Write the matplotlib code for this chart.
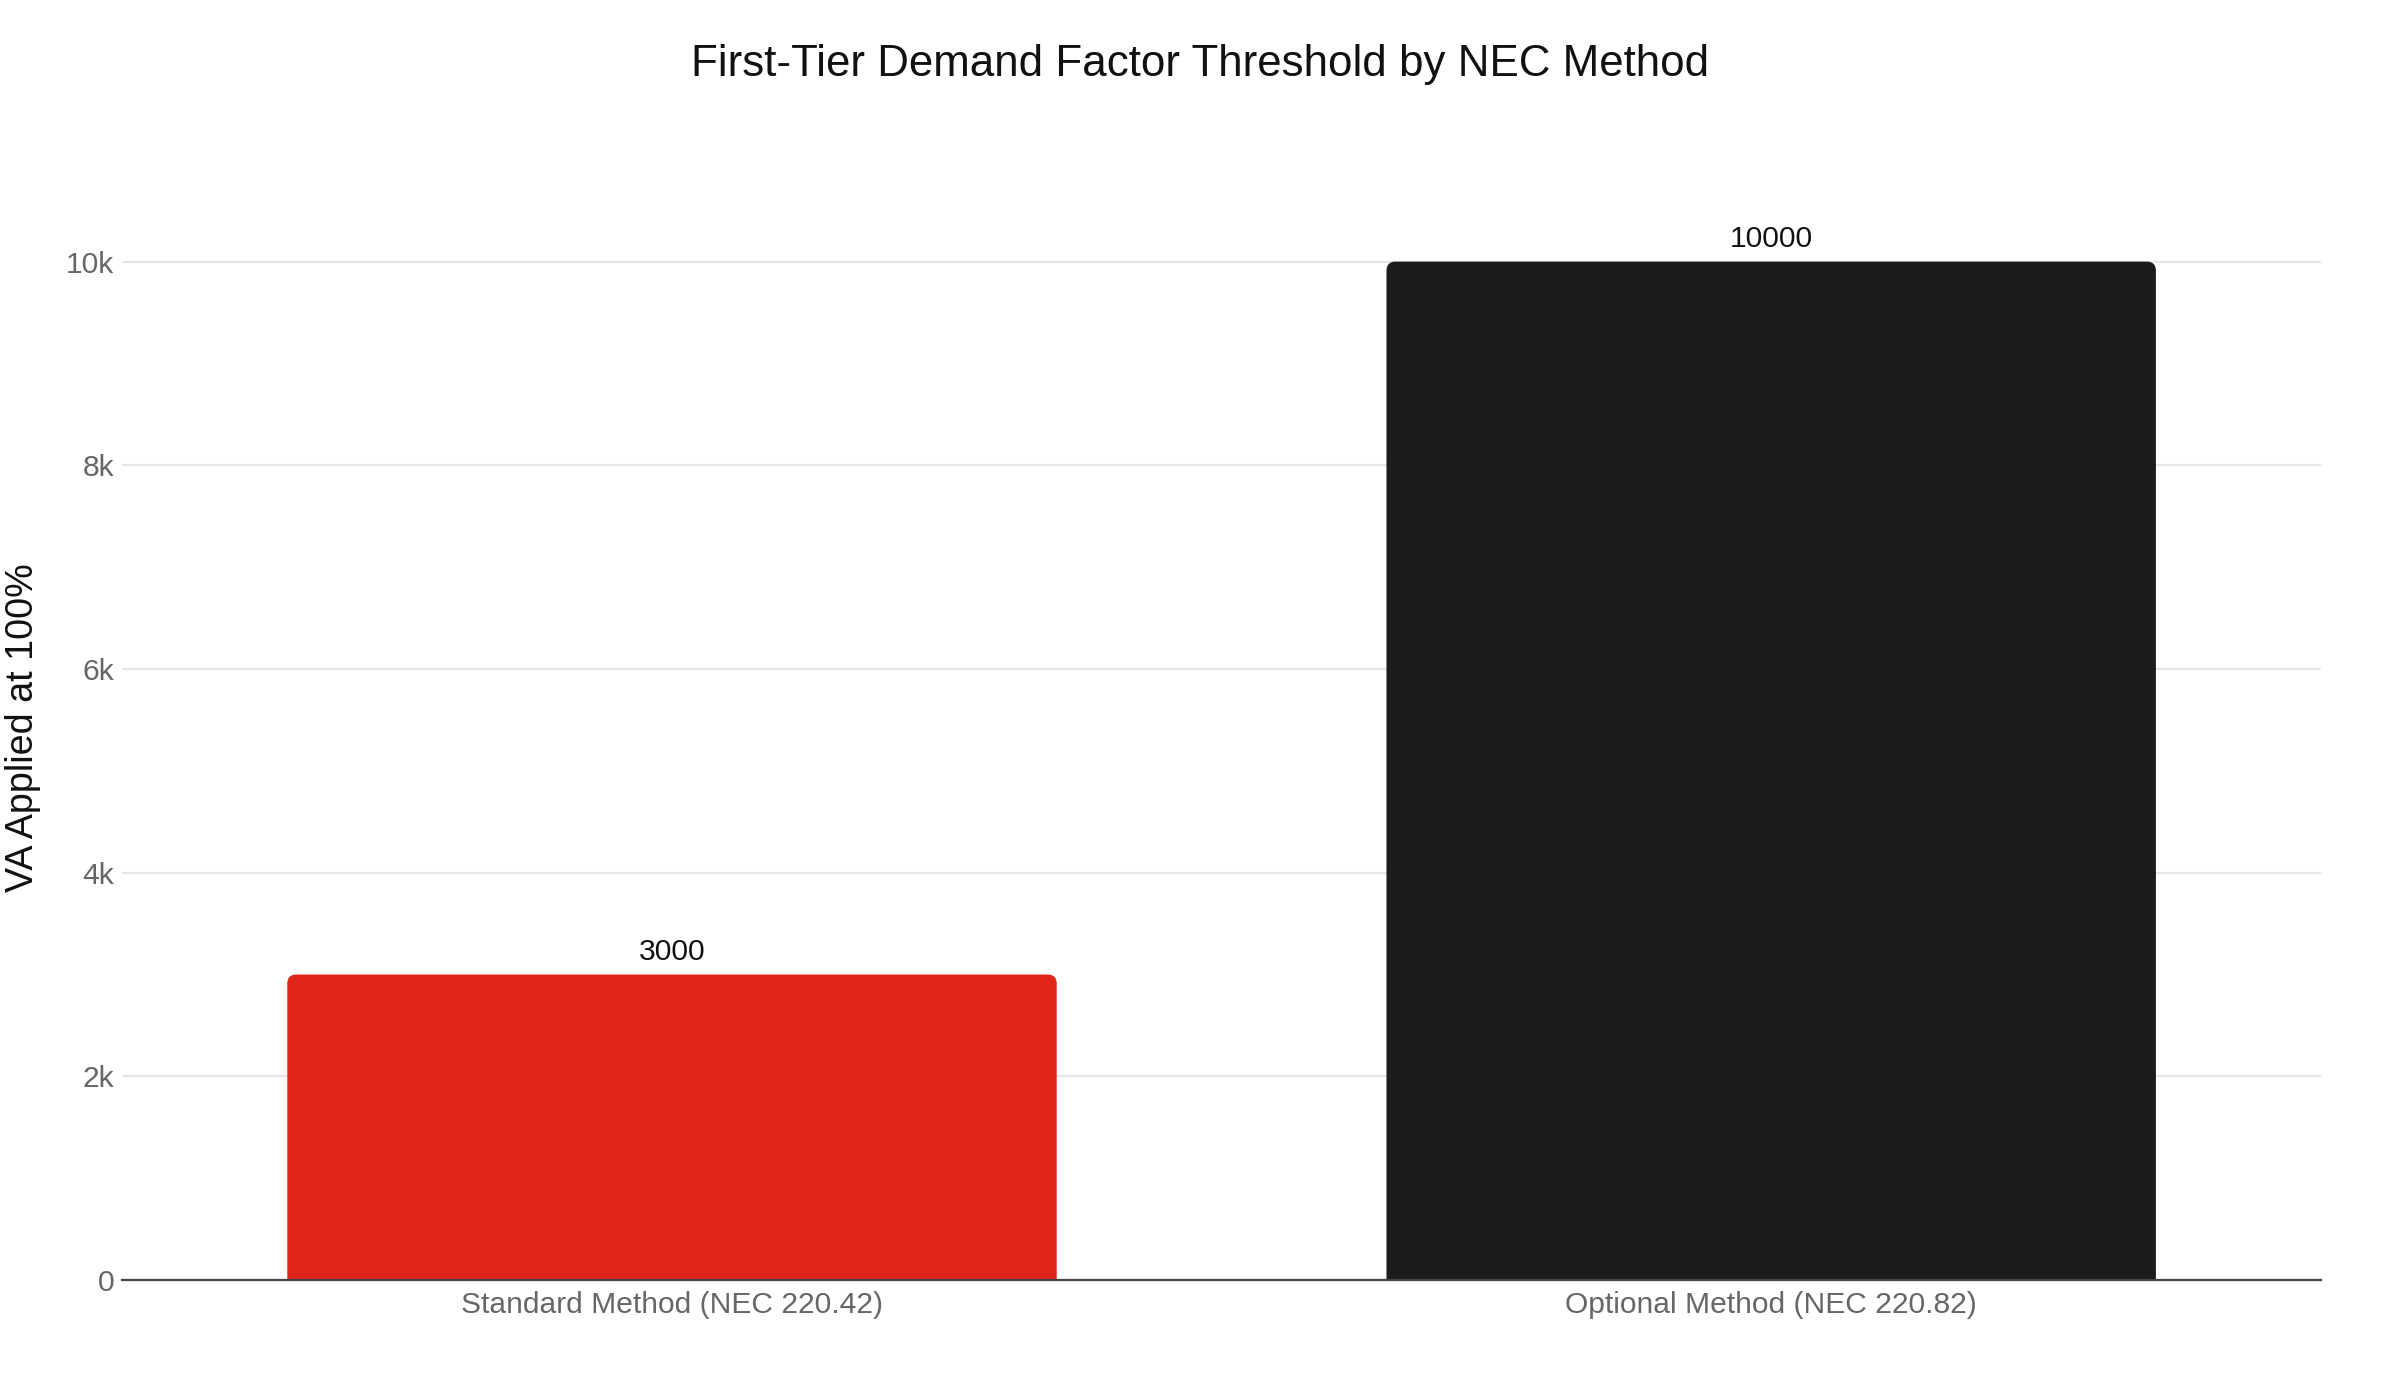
import matplotlib.pyplot as plt
from matplotlib.patches import FancyBboxPatch
from matplotlib.ticker import FuncFormatter

plt.rcParams['font.family'] = ['Liberation Sans', 'DejaVu Sans']

# data
methods = ['Standard Method (NEC 220.42)', 'Optional Method (NEC 220.82)']
va_at_100 = [3000, 10000]
bar_colors = ['#E0251B', '#1C1C1C']

fig = plt.figure(figsize=(12, 7), dpi=200)
ax = fig.add_axes([0.051, 0.0857, 0.916, 0.7657])

x = list(range(len(methods)))
ax.set_xlim(-0.5, len(methods) - 0.5)
ax.set_ylim(0, 10526)

# pixel -> data scale so the corner rounding looks round
fig.canvas.draw()
bbox = ax.get_window_extent()
x_per_px = (ax.get_xlim()[1] - ax.get_xlim()[0]) / bbox.width
y_per_px = (ax.get_ylim()[1] - ax.get_ylim()[0]) / bbox.height
r_px = 9
bw = 0.7
for xi, v, c in zip(x, va_at_100, bar_colors):
    # start below zero so only the top corners show as rounded
    p = FancyBboxPatch((xi - bw / 2, -r_px * y_per_px), bw, v + r_px * y_per_px,
                       boxstyle=f"round,pad=0,rounding_size={r_px * x_per_px}",
                       mutation_aspect=y_per_px / x_per_px,
                       facecolor=c, edgecolor='none', zorder=2)
    ax.add_patch(p)
    ax.annotate(str(v), (xi, v), xytext=(0, 3), textcoords='offset points',
                ha='center', va='bottom', fontsize=10.8, color='#111111')

ax.set_xticks(x)
ax.set_xticklabels(methods, fontsize=10.8, color='#666666')
ax.set_yticks([0, 2000, 4000, 6000, 8000, 10000])
ax.yaxis.set_major_formatter(FuncFormatter(lambda v, p: '0' if v == 0 else f'{int(v / 1000)}k'))
ax.tick_params(axis='y', labelsize=10.8, labelcolor='#666666', length=0, pad=3)
ax.tick_params(axis='x', length=0, pad=4)
ax.grid(axis='y', color='#E6E6E6', linewidth=0.8, zorder=0)
ax.set_axisbelow(True)
for s in ['top', 'right', 'left']:
    ax.spines[s].set_visible(False)
ax.spines['bottom'].set_color('#444444')
ax.spines['bottom'].set_linewidth(0.8)
ax.spines['bottom'].set_zorder(3)

fig.text(0.0095, 0.48, 'VA Applied at 100%', rotation=90, ha='center', va='center',
         fontsize=13.6, color='#111111')
fig.text(0.5, 0.9536, 'First-Tier Demand Factor Threshold by NEC Method', ha='center',
         va='center', fontsize=15.8, color='#111111')

fig.savefig('out.png', dpi=200, facecolor='white')
